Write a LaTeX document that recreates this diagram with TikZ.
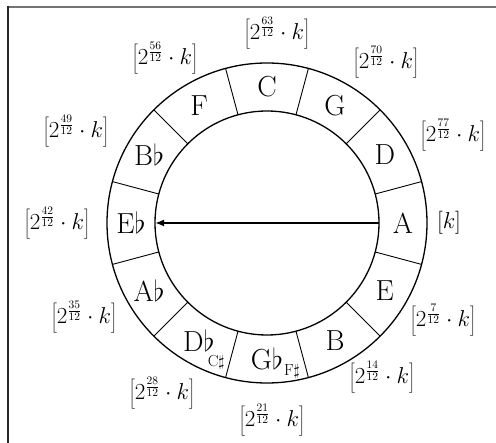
\RequirePackage{fix-cm}
\documentclass[tikz,border=0pt]{standalone}
\usepackage{fontspec}
\usetikzlibrary{arrows.meta}
\newcommand{\notesz}{\fontsize{29}{33}\selectfont}
\newcommand{\labsz}{\fontsize{23}{27}\selectfont}
\newcommand{\subsz}{\fontsize{16}{18}\selectfont}
% #1 horizontal kern, #2 vertical raise, #3 text
\newcommand{\subacc}[3]{\smash{\rlap{\kern#1\raisebox{#2}{\subsz #3}}}}
\newcommand{\lab}[1]{$\left[2^{\frac{#1}{12}}\cdot k\right]$}
\begin{document}
\begin{tikzpicture}[x=1pt,y=1pt,
  note/.style={font=\notesz, inner sep=0pt},
  lab/.style={font=\labsz, inner sep=0pt},
  ring/.style={line width=1.3pt},
  divider/.style={line width=0.9pt},
  arr/.style={line width=2pt, -{Latex[length=9pt,width=7pt]}}]
\useasboundingbox (0,0) rectangle (496,-443);
% frame
\draw[line width=2pt, black!55] (7.5,-7) -- (496,-7);
\draw[line width=1.6pt, black!85] (8,-6.5) -- (8,-443);
\coordinate (c) at (267,-223);
% rings
\draw[ring] (c) circle (160);
\draw[ring] (c) circle (112);
\foreach \a in {15,45,...,345}
  \draw[divider] ([shift={(\a:112)}]c) -- ([shift={(\a:160)}]c);
% notes
\path (c) ++(0:136)   node[note] (A)  {A};
\path (c) ++(30:136)  node[note] (D)  {D};
\path (c) ++(60:136)  node[note] (G)  {G};
\path (c) ++(90:136)  node[note] (C)  {C};
\path (c) ++(120:136) node[note] (F)  {F};
\path (c) ++(150:136) node[note] (Bb) {B$\flat$};
\path (c) ++(180:136) node[note] (Eb) {E$\flat$};
\path (c) ++(210:136) node[note] (Ab) {A$\flat$};
\path (c) ++(240:136) node[note] (Db) {D$\flat$\subacc{-7pt}{-15pt}{C$\sharp$}};
\path (c) ++(270:136) node[note] (Gb) {G$\flat$\subacc{1pt}{-6pt}{F$\sharp$}};
\path (c) ++(300:136) node[note] (B)  {B};
\path (c) ++(330:136) node[note] (E)  {E};
% arrow
\coordinate (ain) at ([shift={(0:112)}]c);
\coordinate (ebin) at ([shift={(180:112)}]c);
\draw[arr] (ain) -- (ebin);
% labels
\node[lab] (l0)  at (449,-223) {$[k]$};
\node[lab] (l7)  at (443,-320) {\lab{7}};
\node[lab] (l14) at (382,-377) {\lab{14}};
\node[lab] (l21) at (272,-420) {\lab{21}};
\node[lab] (l28) at (162,-393) {\lab{28}};
\node[lab] (l35) at (84,-317)  {\lab{35}};
\node[lab] (l42) at (57,-223)  {\lab{42}};
\node[lab] (l49) at (76,-131)  {\lab{49}};
\node[lab] (l56) at (165,-58)  {\lab{56}};
\node[lab] (l63) at (277,-33)  {\lab{63}};
\node[lab] (l70) at (386,-62)  {\lab{70}};
\node[lab] (l77) at (453,-135) {\lab{77}};
\end{tikzpicture}
\end{document}
